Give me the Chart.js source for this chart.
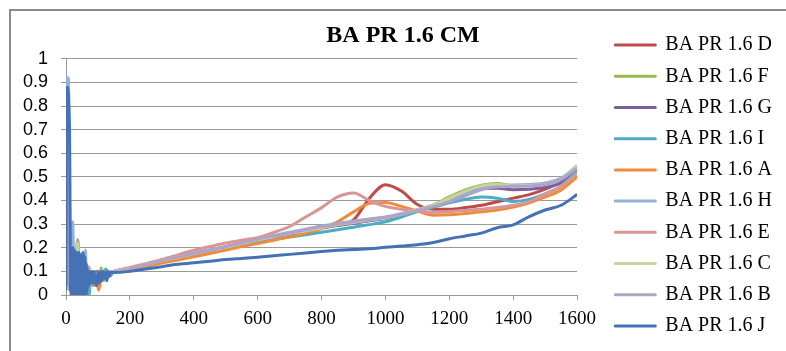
<!DOCTYPE html>
<html><head><meta charset="utf-8">
<script src="https://cdn.jsdelivr.net/npm/chart.js@4.4.1/dist/chart.umd.min.js"></script>
<style>
html,body{margin:0;padding:0;background:#fff;}
#wrap{position:relative;width:786px;height:351px;overflow:hidden;}
#frame{position:absolute;left:9px;top:9px;width:900px;height:500px;border-left:2px solid #8a8a8a;border-top:2px solid #8a8a8a;}
canvas{position:absolute;left:0;top:0;}
</style></head><body>
<div id="wrap"><div id="frame"></div><canvas id="c" width="786" height="351"></canvas></div>
<script>
// ---- categories / tick labels ----
const chartTitle = 'BA PR 1.6 CM';
const legendNames = ['BA PR 1.6 D','BA PR 1.6 F','BA PR 1.6 G','BA PR 1.6 I','BA PR 1.6 A','BA PR 1.6 H','BA PR 1.6 E','BA PR 1.6 C','BA PR 1.6 B','BA PR 1.6 J'];
const xTicks = [0,200,400,600,800,1000,1200,1400,1600];
const yTicks = [0,0.1,0.2,0.3,0.4,0.5,0.6,0.7,0.8,0.9,1];

// ---- smooth part x positions (shared) ----
const xSmooth = [200,250,300,350,400,450,500,550,600,650,700,750,800,850,900,950,1000,1050,1100,1150,1200,1250,1300,1350,1400,1450,1500,1550,1600];

// ---- start (noisy) part, per series ----
const xStartD = [0,4,6,9,14,20,27,34,41,48,56,64,72,80,89,98,108,118,130,140,150];
const yStartD = [0.04,0.8,0.83,0.14,0.02,0.17,0.03,0.18,0.04,0.15,0.03,0.13,0.05,0.1,0.05,0.1,0.06,0.1,0.08,0.1,0.1];
const xStartF = [0,4,6,9,13,18,24,30,37,42,48,55,62,70,78,86,95,102,110,118,128,138,150];
const yStartF = [0.05,0.85,0.86,0.2,0.05,0.17,0.03,0.15,0.235,0.08,0.15,0.03,0.13,0.05,0.1,0.05,0.1,0.06,0.115,0.06,0.1,0.08,0.1];
const xStartG = [0,4,6,9,14,20,26,32,38,44,52,60,68,76,85,95,105,115,127,140,150];
const yStartG = [0.04,0.8,0.85,0.12,0.03,0.18,0.02,0.16,0.04,0.15,0.02,0.13,0.04,0.1,0.04,0.1,0.05,0.1,0.07,0.1,0.1];
const xStartI = [0,4,6,9,14,20,27,33,40,47,55,62,68,72,78,86,95,105,115,125,135,150];
const yStartI = [0.04,0.8,0.84,0.15,0.02,0.16,0.03,0.17,0.04,0.15,0.02,0.12,0.05,0.0,0.08,0.04,0.09,0.05,0.08,0.11,0.08,0.1];
const xStartA = [0,4,6,9,14,20,26,33,40,47,55,62,70,78,86,94,102,108,115,125,137,150];
const yStartA = [0.04,0.78,0.82,0.12,0.03,0.17,0.02,0.16,0.05,0.14,0.03,0.12,0.04,0.09,0.04,0.08,0.02,0.06,0.09,0.07,0.09,0.098];
const xStartH = [0,2,4,7,9,11,13,15,18,21,23,26,30,34,38,42,46,50,54,58,61,64,68,72,78,85,92,100,108,116,124,132,140,150];
const yStartH = [0.05,0.85,0.92,0.92,0.8,0.4,0.02,0.2,0.05,0.31,0.2,0.02,0.16,0.03,0.17,0.02,0.15,0.03,0.14,0.05,0.19,0.06,0.12,0.03,0.09,0.05,0.09,0.06,0.1,0.07,0.1,0.08,0.1,0.1];
const xStartE = [0,3,5,7,10,14,18,24,30,37,42,48,54,60,66,72,78,86,94,102,112,122,135,150];
const yStartE = [0.05,0.6,0.86,0.8,0.1,0.18,0.03,0.16,0.05,0.23,0.1,0.16,0.05,0.14,0.06,0.12,0.06,0.1,0.06,0.1,0.07,0.1,0.09,0.1];
const xStartC = [0,4,6,9,13,18,25,31,36,42,49,56,63,72,80,90,100,110,120,135,150];
const yStartC = [0.05,0.8,0.84,0.2,0.04,0.16,0.03,0.15,0.22,0.07,0.14,0.03,0.12,0.05,0.1,0.05,0.1,0.07,0.1,0.09,0.1];
const xStartB = [0,4,6,9,13,19,24,30,36,42,50,58,65,72,80,90,100,110,122,135,150];
const yStartB = [0.05,0.82,0.86,0.15,0.02,0.2,0.04,0.15,0.05,0.16,0.03,0.14,0.05,0.1,0.05,0.09,0.06,0.1,0.07,0.1,0.1];
const xStartJ = [0,1,2,4,6,8,10,11,12,13,14,15,16,17,18,19,20,21,22,23,24,25,26,27,28,29,30,31,32,33,34,35,36,37,38,39,40,41,42,43,44,45,46,47,48,49,50,51,52,53,54,55,56,57,58,59,60,61,62,63,64,65,66,67,68,70,73,76,79,82,85,88,92,96,100,104,108,112,116,120,124,128,132,136,140,148,150];
const yStartJ = [0.02,0.5,0.8,0.88,0.87,0.84,0.75,0.7,0.55,0.3,0.02,0.18,0.0,0.19,0.01,0.17,0.0,0.2,0.02,0.18,0.0,0.16,0.01,0.19,0.0,0.17,0.02,0.15,0.0,0.16,0.01,0.18,0.0,0.17,0.02,0.16,0.0,0.18,0.01,0.17,0.0,0.16,0.02,0.15,0.0,0.17,0.01,0.16,0.0,0.18,0.02,0.17,0.0,0.15,0.01,0.16,0.0,0.14,0.02,0.13,0.0,0.12,0.02,0.11,0.03,0.09,0.04,0.1,0.05,0.1,0.05,0.1,0.05,0.04,0.1,0.05,0.1,0.06,0.1,0.07,0.1,0.06,0.1,0.08,0.095,0.095,0.095];

// ---- smooth part values, per series (at xSmooth) ----
const ySmoothD = [0.11,0.127,0.145,0.16,0.174,0.188,0.2,0.215,0.232,0.245,0.258,0.27,0.284,0.297,0.318,0.41,0.467,0.44,0.383,0.363,0.363,0.37,0.38,0.395,0.41,0.425,0.448,0.48,0.53];
const ySmoothF = [0.11,0.127,0.145,0.16,0.174,0.188,0.2,0.215,0.232,0.245,0.258,0.27,0.285,0.295,0.305,0.315,0.325,0.342,0.36,0.382,0.415,0.445,0.465,0.472,0.462,0.463,0.466,0.49,0.548];
const ySmoothG = [0.11,0.127,0.145,0.16,0.174,0.188,0.2,0.215,0.232,0.245,0.258,0.27,0.284,0.294,0.304,0.314,0.324,0.34,0.358,0.375,0.395,0.425,0.45,0.452,0.446,0.448,0.456,0.475,0.535];
const ySmoothI = [0.108,0.124,0.14,0.154,0.168,0.18,0.193,0.208,0.225,0.235,0.245,0.255,0.266,0.276,0.287,0.298,0.31,0.33,0.353,0.372,0.39,0.405,0.415,0.41,0.396,0.405,0.428,0.462,0.527];
const ySmoothA = [0.105,0.12,0.135,0.148,0.162,0.176,0.19,0.205,0.218,0.232,0.246,0.262,0.282,0.31,0.352,0.388,0.392,0.375,0.355,0.338,0.34,0.345,0.352,0.36,0.372,0.39,0.415,0.445,0.5];
const ySmoothH = [0.112,0.13,0.148,0.163,0.178,0.192,0.206,0.222,0.24,0.252,0.266,0.279,0.292,0.303,0.313,0.322,0.33,0.345,0.362,0.38,0.4,0.428,0.452,0.465,0.466,0.468,0.474,0.495,0.545];
const ySmoothE = [0.117,0.133,0.15,0.17,0.19,0.205,0.22,0.232,0.243,0.265,0.29,0.33,0.37,0.415,0.432,0.4,0.375,0.363,0.357,0.35,0.353,0.358,0.363,0.37,0.38,0.395,0.428,0.46,0.515];
const ySmoothC = [0.11,0.128,0.146,0.16,0.175,0.189,0.202,0.218,0.234,0.247,0.26,0.272,0.286,0.297,0.307,0.317,0.326,0.342,0.36,0.38,0.41,0.44,0.462,0.468,0.462,0.464,0.468,0.49,0.545];
const ySmoothB = [0.11,0.128,0.146,0.161,0.176,0.19,0.204,0.22,0.237,0.25,0.262,0.276,0.29,0.3,0.31,0.32,0.328,0.342,0.358,0.375,0.395,0.42,0.445,0.458,0.46,0.462,0.468,0.49,0.538];
const ySmoothJ = [0.1,0.11,0.12,0.13,0.137,0.143,0.15,0.155,0.16,0.166,0.172,0.178,0.184,0.189,0.193,0.196,0.202,0.207,0.213,0.222,0.238,0.25,0.262,0.285,0.297,0.332,0.36,0.38,0.425];

const colors = ['#BE4B48','#98B954','#7D5FA0','#4BACC6','#F08A3C','#93B1DC','#DA9694','#C3D69B','#B3A2C7','#4472B4'];

function pts(xa, ya, xb, yb){
  const out = xa.map((x,i)=>({x:x, y:ya[i]}));
  return out.concat(xb.map((x,i)=>({x:x, y:yb[i]})));
}
const seriesData = [
  pts(xStartD,yStartD,xSmooth,ySmoothD),
  pts(xStartF,yStartF,xSmooth,ySmoothF),
  pts(xStartG,yStartG,xSmooth,ySmoothG),
  pts(xStartI,yStartI,xSmooth,ySmoothI),
  pts(xStartA,yStartA,xSmooth,ySmoothA),
  pts(xStartH,yStartH,xSmooth,ySmoothH),
  pts(xStartE,yStartE,xSmooth,ySmoothE),
  pts(xStartC,yStartC,xSmooth,ySmoothC),
  pts(xStartB,yStartB,xSmooth,ySmoothB),
  pts(xStartJ,yStartJ,xSmooth,ySmoothJ)
];

// Chart.js draws dataset 0 on top; Excel draws the last series on top -> reverse
const datasets = legendNames.map((n,i)=>({
  label:n, data:seriesData[i], borderColor:colors[i], backgroundColor:colors[i],
  borderWidth:3, pointRadius:0, fill:false, cubicInterpolationMode:'monotone',
  borderJoinStyle:'round'
})).reverse();

// centre the title at a fixed x (Excel centres it over the whole chart object)
const titleCenter = {
  id:'titleCenter',
  afterLayout(chart){
    const t = chart.titleBlock;
    if (!t) return;
    const shift = 403 - (t.left + t.right) / 2;
    t.left += shift; t.right += shift;
  }
};

const grey = '#9a9a9a';
new Chart(document.getElementById('c'), {
  type:'line',
  data:{datasets:datasets},
  plugins:[titleCenter],
  options:{
    responsive:false, animation:false, devicePixelRatio:1, events:[],
    layout:{padding:{top:20,left:0,right:4,bottom:0}},
    plugins:{
      tooltip:{enabled:false},
      title:{display:true, text:chartTitle, color:'#000',
        font:{family:'Liberation Serif', size:24, weight:'bold'}, padding:{top:1,bottom:9}},
      legend:{position:'right', align:'center', reverse:true, maxWidth:220,
        labels:{boxWidth:40, boxHeight:0, padding:11.2, color:'#000',
          font:{family:'Liberation Serif', size:20}}}
    },
    scales:{
      x:{type:'linear', min:xTicks[0], max:xTicks[xTicks.length-1],
        afterBuildTicks(s){ s.ticks = xTicks.map(v=>({value:v})); },
        ticks:{color:'#000', font:{family:'Liberation Serif', size:19}, padding:8, maxRotation:0, autoSkip:false,
          callback:(v)=>String(v)},
        grid:{display:true, drawOnChartArea:false, drawTicks:true, tickLength:5, color:grey},
        border:{display:true, color:grey},
        afterFit(s){ s.height = 56; }},
      y:{type:'linear', min:yTicks[0], max:yTicks[yTicks.length-1],
        afterBuildTicks(s){ s.ticks = yTicks.map(v=>({value:v})); },
        ticks:{color:'#000', padding:13, autoSkip:false, font:{family:'Liberation Sans', size:18, lineHeight:1},
          callback:(v)=>String(Math.round(v*10)/10)},
        grid:{color:grey, tickLength:5},
        border:{display:true, color:grey},
        afterFit(s){ s.width = 66; }},
      yR:{type:'linear', position:'right', display:true,
        grid:{display:false}, border:{display:false}, ticks:{display:false},
        afterFit(s){ s.width = 27; }}
    }
  }
});
</script>
</body></html>
